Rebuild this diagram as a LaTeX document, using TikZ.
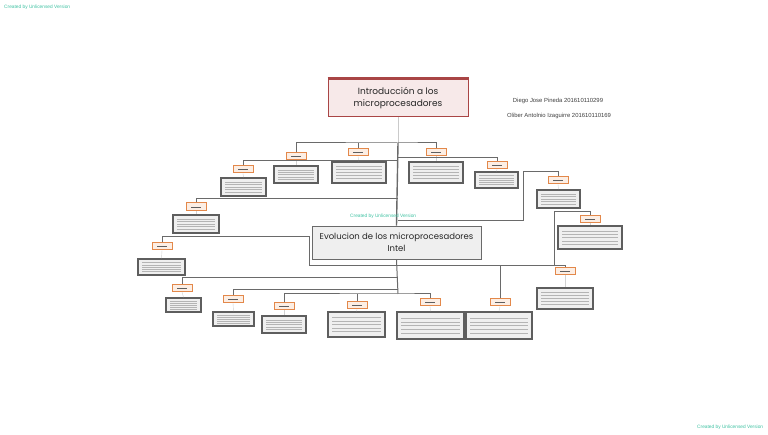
\documentclass[tikz,border=0pt]{standalone}
\usepackage{fontspec}
\setmainfont{Poppins}
\newfontfamily\notefont{Liberation Sans}
\usetikzlibrary{calc}
\definecolor{TitleClr}{HTML}{A94545}
\definecolor{TitleFill}{HTML}{F7E9E9}
\definecolor{LineClr}{HTML}{6A6A6A}
\definecolor{TagClr}{HTML}{E3884A}
\definecolor{TagFill}{HTML}{FCEEE4}
\definecolor{BoxClr}{HTML}{5E5E5E}
\definecolor{BoxFill}{HTML}{EFEFEF}
\definecolor{TxtClr}{HTML}{B4B4B4}
\definecolor{MarkClr}{HTML}{3EC2A2}

\begin{document}
\begin{tikzpicture}[x=1pt,y=-1pt,
  conn/.style={LineClr,line width=1pt},
  guide/.style={TxtClr!60,line width=0.4pt},
  tag/.style={draw=TagClr,fill=TagFill,line width=1pt,minimum width=20pt,minimum height=7pt,inner sep=0pt,
    path picture={\draw[BoxClr,line width=0.5pt]
      ($(path picture bounding box.west)+(5,0)$) -- ($(path picture bounding box.east)+(-5,0)$);}},
  txtbox/.style={draw=BoxClr,fill=BoxFill,line width=1.5pt,inner sep=0pt,
    path picture={\foreach \k in {0.22,0.36,0.5,0.64,0.78}
      \draw[TxtClr,line width=0.4pt]
      ($(path picture bounding box.north west)!\k!(path picture bounding box.south west)+(4,0)$) --
      ($(path picture bounding box.north east)!\k!(path picture bounding box.south east)+(-4,0)$);}},
  wmark/.style={MarkClr,font=\notefont\fontsize{4.8}{5}\selectfont,anchor=west,inner sep=0pt}]
\useasboundingbox[fill=white] (0,0) rectangle (768,435);

% main boxes
\node[draw=TitleClr,fill=TitleFill,line width=1pt,minimum width=140pt,minimum height=38pt,align=center,
  font=\fontsize{9}{12.5}\selectfont,text=black!85] (T) at (398,98) {Introducción a los\\microprocesadores};
\draw[TitleClr,line width=2.5pt] (T.north west) -- (T.north east);
\node[draw=LineClr,fill=BoxFill,line width=0.8pt,minimum width=169pt,minimum height=33pt,align=center,
  font=\fontsize{8.5}{12}\selectfont,text=black!85] (I) at (396.5,242.5) {Evolucion de los microprocesadores\\Intel};

% authors
\node[font=\notefont\fontsize{5.9}{6}\selectfont,text=black!75] (A1) at (558,101) {Diego Jose Pineda 201610110299};
\node[font=\notefont\fontsize{5.9}{6}\selectfont,text=black!75] (A2) at (559,116) {Oliber Antolnio Izaguirre 201610110169};

% tags
\node[tag] (L1) at (243,169.5) {};
\node[tag] (L2) at (296,156.5) {};
\node[tag] (L3) at (358,152.5) {};
\node[tag] (L4) at (436,152.5) {};
\node[tag] (L5) at (497,165.5) {};
\node[tag] (L6) at (558,180.5) {};
\node[tag] (L7) at (590,219.5) {};
\node[tag,minimum height=8pt] (L8) at (196,207) {};
\node[tag] (L9) at (162,246.5) {};
\node[tag] (L10) at (182,288) {};
\node[tag] (L11) at (233,299) {};
\node[tag] (L12) at (284,306.5) {};
\node[tag] (L13) at (357,305.5) {};
\node[tag] (L14) at (430,302.5) {};
\node[tag] (L15) at (500,302.5) {};
\node[tag] (L16) at (565,271.5) {};

% text boxes
\node[txtbox,minimum width=45pt,minimum height=18pt] (B1) at (243.5,187) {};
\node[txtbox,minimum width=44pt,minimum height=17pt] (B2) at (296,174.5) {};
\node[txtbox,minimum width=54pt,minimum height=21pt] (B3) at (359,172.5) {};
\node[txtbox,minimum width=54pt,minimum height=21pt] (B4) at (436,172.5) {};
\node[txtbox,minimum width=43pt,minimum height=16pt] (B5) at (496.5,180) {};
\node[txtbox,minimum width=43pt,minimum height=18pt] (B6) at (558.5,199) {};
\node[txtbox,minimum width=64pt,minimum height=23pt] (B7) at (590,237.5) {};
\node[txtbox,minimum width=46pt,minimum height=18pt] (B8) at (196,224) {};
\node[txtbox,minimum width=47pt,minimum height=16pt] (B9) at (161.5,267) {};
\node[txtbox,minimum width=35pt,minimum height=14pt] (B10) at (183.5,305) {};
\node[txtbox,minimum width=41pt,minimum height=14pt] (B11) at (233.5,319) {};
\node[txtbox,minimum width=44pt,minimum height=17pt] (B12) at (284,324.5) {};
\node[txtbox,minimum width=57pt,minimum height=25pt] (B13) at (356.5,324.5) {};
\node[txtbox,minimum width=67pt,minimum height=27pt] (B14) at (430.5,325.5) {};
\node[txtbox,minimum width=66pt,minimum height=27pt] (B15) at (499,325.5) {};
\node[txtbox,minimum width=56pt,minimum height=21pt] (B16) at (565,298.5) {};

\foreach \i in {1,...,16}
  \draw[guide] (L\i.south) -- (B\i.north);

% junctions
\coordinate (J0) at (398,143);
\coordinate (J1) at (398,161);
\coordinate (J2) at (398,158);
\coordinate (J3) at (398,199);
\coordinate (J4) at (398,221);
\coordinate (K1) at (523,172);
\coordinate (J5) at (398,266);
\coordinate (K2) at (309,237);
\coordinate (K3) at (554,212);
\coordinate (K4) at (554,266);
\coordinate (J6) at (398,278);
\coordinate (J7) at (398,290);
\coordinate (J8) at (398,294);

% upper tree
\draw[TxtClr!70,line width=0.5pt] (T.south) -- (J0);
\draw[conn,line width=1.4pt] (J0) -- (I.north);
\draw[conn] (L2.north) |- (J0) -| (L4.north);
\draw[conn] (L3.north) -- (L3.north |- J0);
\draw[conn] (L1.north) |- (J1);
\draw[conn] (J2) -| (L5.north);
\draw[conn] (L8.north) |- (J3);
\draw[conn] (J4) -| (K1) -| (L6.north);

% lower tree
\draw[conn] (I.south) -- (J8);
\draw[conn] (L9.north) |- (K2) |- (J5);
\draw[conn] (J5) -| (K3) -| (L7.north);
\draw[conn] (K4) -| (L16.north);
\draw[conn] (L15.north) -- (L15.north |- J5);
\draw[conn] (L10.north) |- (J6);
\draw[conn] (L11.north) |- (J7);
\draw[conn] (L12.north) |- (J8) -| (L14.north);
\draw[conn] (L13.north) -- (L13.north |- J8);

% watermarks
\node[wmark] (W1) at (4,7) {Created by Unlicensed Version};
\node[wmark] (W2) at (350,216) {Created by Unlicensed Version};
\node[wmark] (W3) at (697,427) {Created by Unlicensed Version};
\end{tikzpicture}
\end{document}
